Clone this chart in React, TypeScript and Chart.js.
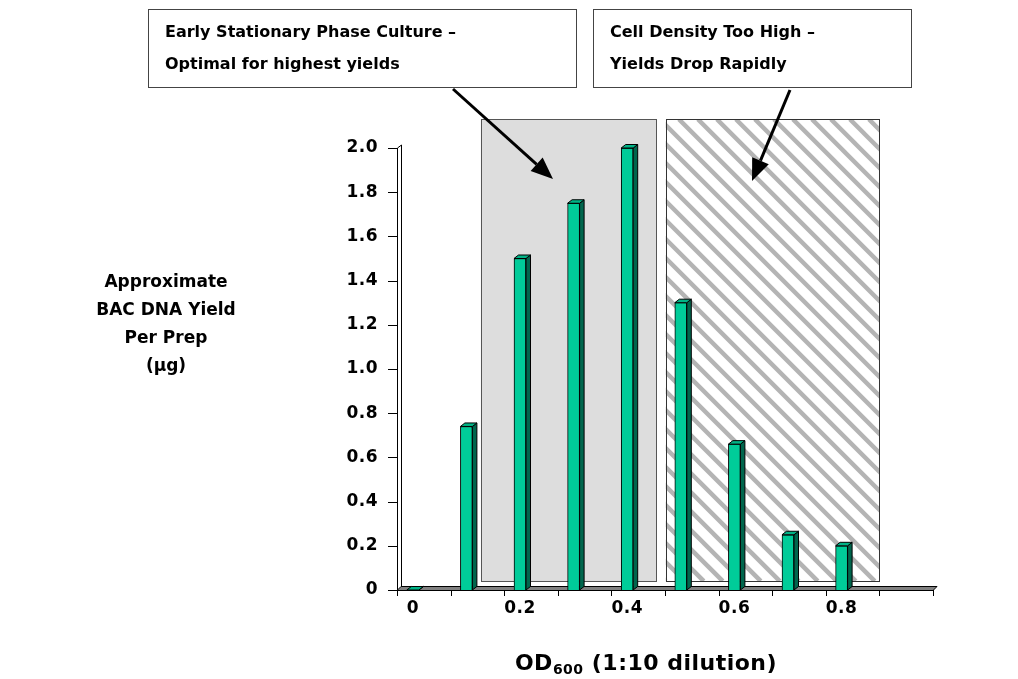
import { useEffect, useRef } from 'react';
import { Chart, registerables } from 'chart.js';

Chart.register(...registerables);

// ---- Data ----
const categories = ['0', '0.1', '0.2', '0.3', '0.4', '0.5', '0.6', '0.7', '0.8', '0.9'];
const yieldValues = [0, 0.74, 1.5, 1.75, 2.0, 1.3, 0.66, 0.25, 0.2, null];
const xTickLabels = ['0', '0.2', '0.4', '0.6', '0.8'];
const yMin = 0;
const yMax = 2.0;
const yStep = 0.2;

// Shaded regions in data units (category index on x, yield on y)
const stationaryRegion = [1.27, 4.54, 0.04, 2.13];
const highDensityRegion = [4.72, 8.7, 0.04, 2.13];

const yTitleLines = ['Approximate', 'BAC DNA Yield', 'Per Prep', '(µg)'];
const note1Lines = ['Early Stationary Phase Culture –', 'Optimal for highest yields'];
const note2Lines = ['Cell Density Too High –', 'Yields Drop Rapidly'];

const FONT = '"DejaVu Sans", Verdana, sans-serif';

function drawArrow(ctx: CanvasRenderingContext2D, x1: number, y1: number, x2: number, y2: number) {
  const ang = Math.atan2(y2 - y1, x2 - x1);
  const headLen = 22;
  const headW = 9;
  const bx = x2 - headLen * Math.cos(ang);
  const by = y2 - headLen * Math.sin(ang);
  ctx.save();
  ctx.strokeStyle = '#000';
  ctx.fillStyle = '#000';
  ctx.lineWidth = 3;
  ctx.beginPath();
  ctx.moveTo(x1, y1);
  ctx.lineTo(bx, by);
  ctx.stroke();
  ctx.beginPath();
  ctx.moveTo(x2, y2);
  ctx.lineTo(bx + headW * Math.sin(ang), by - headW * Math.cos(ang));
  ctx.lineTo(bx - headW * Math.sin(ang), by + headW * Math.cos(ang));
  ctx.closePath();
  ctx.fill();
  ctx.restore();
}

const DEPTH_X = 11; // 3D offset of axis planes
const BAR_DX = 4.5;
const BAR_DY = -3.5;

const backgroundPlugin = {
  id: 'bgShapes',
  beforeDraw(chart: any) {
    (chart.ctx as any).letterSpacing = '0.5px';
  },
  beforeDatasetsDraw(chart: any) {
    const ctx: CanvasRenderingContext2D = chart.ctx;
    const xs = chart.scales.x;
    const ys = chart.scales.y;
    const rect = (r: number[]) => {
      const x0 = xs.getPixelForValue(r[0]);
      const x1 = xs.getPixelForValue(r[1]);
      const y0 = ys.getPixelForValue(r[3]);
      const y1 = ys.getPixelForValue(r[2]);
      return [x0, y0, x1 - x0, y1 - y0];
    };
    ctx.save();
    // stationary region: solid light grey
    const [ax, ay, aw, ah] = rect(stationaryRegion);
    ctx.fillStyle = '#DDDDDD';
    ctx.fillRect(ax, ay, aw, ah);
    ctx.strokeStyle = '#555';
    ctx.lineWidth = 1;
    ctx.strokeRect(Math.round(ax) + 0.5, Math.round(ay) + 0.5, Math.round(aw), Math.round(ah));

    // high density region: hatched
    const [bx, by, bw, bh] = rect(highDensityRegion);
    ctx.fillStyle = '#FFFFFF';
    ctx.fillRect(bx, by, bw, bh);
    ctx.save();
    ctx.beginPath();
    ctx.rect(bx, by, bw, bh);
    ctx.clip();
    ctx.strokeStyle = '#B4B4B4';
    ctx.lineWidth = 4.5;
    for (let c = -bh; c < bw + 20; c += 19) {
      ctx.beginPath();
      ctx.moveTo(bx + c, by);
      ctx.lineTo(bx + c + bh, by + bh);
      ctx.stroke();
    }
    ctx.restore();
    ctx.strokeStyle = '#333';
    ctx.lineWidth = 1;
    ctx.strokeRect(Math.round(bx) + 0.5, Math.round(by) + 0.5, Math.round(bw), Math.round(bh));

    // axis wall and floor
    const base = ys.getPixelForValue(0);
    const top = ys.getPixelForValue(yMax);
    const left = xs.left + DEPTH_X;
    const right = xs.right + DEPTH_X;
    ctx.strokeStyle = '#000';
    ctx.lineWidth = 1;
    ctx.beginPath();
    ctx.moveTo(left + 0.5, base);
    ctx.lineTo(left + 0.5, top);
    ctx.lineTo(left + 4.5, top - 3);
    ctx.lineTo(left + 4.5, base - 3);
    ctx.stroke();
    // floor slab
    ctx.fillStyle = '#808080';
    ctx.beginPath();
    ctx.moveTo(left, base + 0.5);
    ctx.lineTo(right, base + 0.5);
    ctx.lineTo(right + 4, base - 3.5);
    ctx.lineTo(left + 4, base - 3.5);
    ctx.closePath();
    ctx.fill();
    ctx.stroke();
    // y tick marks
    for (let v = yMin; v <= yMax + 1e-9; v += yStep) {
      const y = Math.round(ys.getPixelForValue(v)) + 0.5;
      ctx.beginPath();
      ctx.moveTo(left - 9, y);
      ctx.lineTo(left, y);
      ctx.stroke();
    }
    // x tick marks at category boundaries
    const n = categories.length;
    for (let i = 0; i <= n; i++) {
      const x = Math.round(xs.getPixelForValue(i - 0.5) + DEPTH_X) + 0.5;
      ctx.beginPath();
      ctx.moveTo(x, base);
      ctx.lineTo(x, base + 6);
      ctx.stroke();
    }
    ctx.restore();
  },
  afterDatasetsDraw(chart: any) {
    const ctx: CanvasRenderingContext2D = chart.ctx;
    const meta = chart.getDatasetMeta(0);
    ctx.save();
    ctx.strokeStyle = '#000';
    ctx.lineWidth = 1;
    meta.data.forEach((el: any, i: number) => {
      if (yieldValues[i] === null || yieldValues[i] === undefined) return;
      const w = el.width;
      const xl = el.x - w / 2;
      const xr = el.x + w / 2;
      const yt = el.y;
      const yb = el.base;
      // side
      ctx.fillStyle = '#00664D';
      ctx.beginPath();
      ctx.moveTo(xr, yt);
      ctx.lineTo(xr + BAR_DX, yt + BAR_DY);
      ctx.lineTo(xr + BAR_DX, yb + BAR_DY);
      ctx.lineTo(xr, yb);
      ctx.closePath();
      ctx.fill();
      ctx.stroke();
      // top
      ctx.fillStyle = '#00B386';
      ctx.beginPath();
      ctx.moveTo(xl, yt);
      ctx.lineTo(xl + BAR_DX, yt + BAR_DY);
      ctx.lineTo(xr + BAR_DX, yt + BAR_DY);
      ctx.lineTo(xr, yt);
      ctx.closePath();
      ctx.fill();
      ctx.stroke();
    });
    ctx.restore();
  },
  afterDraw(chart: any) {
    const ctx: CanvasRenderingContext2D = chart.ctx;
    ctx.save();
    (ctx as any).letterSpacing = '0px';
    // note boxes
    const boxes = [
      { x: 148, y: 9, w: 428, h: 78, lines: note1Lines, tx: 165 },
      { x: 593, y: 9, w: 318, h: 78, lines: note2Lines, tx: 610 },
    ];
    boxes.forEach((b) => {
      ctx.fillStyle = '#fff';
      ctx.fillRect(b.x, b.y, b.w, b.h);
      ctx.strokeStyle = '#444';
      ctx.lineWidth = 1;
      ctx.strokeRect(b.x + 0.5, b.y + 0.5, b.w, b.h);
      ctx.fillStyle = '#000';
      ctx.font = `bold 16px ${FONT}`;
      ctx.textAlign = 'left';
      ctx.textBaseline = 'middle';
      b.lines.forEach((t, k) => ctx.fillText(t, b.tx, 33 + k * 32));
    });
    drawArrow(ctx, 453, 89, 553, 179);
    drawArrow(ctx, 790, 90, 752, 181);

    // y title
    ctx.fillStyle = '#000';
    ctx.font = `bold 17px ${FONT}`;
    ctx.textAlign = 'center';
    ctx.textBaseline = 'middle';
    yTitleLines.forEach((t, k) => ctx.fillText(t, 166, 283 + k * 28));

    // x title with subscript
    (ctx as any).letterSpacing = '0.5px';
    const big = `bold 22px ${FONT}`;
    const small = `bold 14px ${FONT}`;
    ctx.textAlign = 'left';
    ctx.textBaseline = 'alphabetic';
    ctx.font = big;
    const w1 = ctx.measureText('OD').width;
    const w3 = ctx.measureText(' (1:10 dilution)').width;
    ctx.font = small;
    const w2 = ctx.measureText('600').width;
    const total = w1 + w2 + w3;
    let x = 646 - total / 2;
    const baseY = 670;
    ctx.font = big;
    ctx.fillText('OD', x, baseY);
    x += w1;
    ctx.font = small;
    ctx.fillText('600', x, baseY + 4);
    x += w2;
    ctx.font = big;
    ctx.fillText(' (1:10 dilution)', x, baseY);
    ctx.restore();
  },
};

export default function App() {
  const ref = useRef<HTMLCanvasElement>(null);
  useEffect(() => {
    document.body.style.margin = '0';
    document.body.style.overflow = 'hidden';
    const chart = new Chart(ref.current as HTMLCanvasElement, {
      type: 'bar',
      data: {
        labels: categories,
        datasets: [
          {
            data: yieldValues as any,
            backgroundColor: '#00CC99',
            borderColor: '#000',
            borderWidth: 1,
            barThickness: 12,
          },
        ],
      },
      options: {
        responsive: false,
        animation: false,
        layout: { padding: { top: 148, right: 96, left: 0, bottom: 0 } },
        plugins: { legend: { display: false }, tooltip: { enabled: false } },
        scales: {
          x: {
            grid: { display: false, drawTicks: false },
            border: { display: false },
            ticks: {
              autoSkip: false,
              maxRotation: 0,
              padding: 8,
              color: '#000',
              font: { family: FONT, size: 17, weight: 'bold' },
              callback: (_v: any, i: number) => (xTickLabels.includes(categories[i]) ? categories[i] : ''),
            },
            afterFit: (s: any) => {
              s.height = 89;
            },
          },
          y: {
            min: yMin,
            max: yMax,
            grid: { display: false, drawTicks: false },
            border: { display: false },
            ticks: {
              stepSize: yStep,
              padding: 8,
              color: '#000',
              font: { family: FONT, size: 17, weight: 'bold' },
              callback: (v: any) => (Number(v) === 0 ? '0' : Number(v).toFixed(1)),
            },
            afterFit: (s: any) => {
              s.width = 386;
            },
          },
        },
      },
      plugins: [backgroundPlugin],
    });
    return () => chart.destroy();
  }, []);
  return (
    <div style={{ width: 1018, height: 679 }}>
      <canvas ref={ref} width={1018} height={679} />
    </div>
  );
}
